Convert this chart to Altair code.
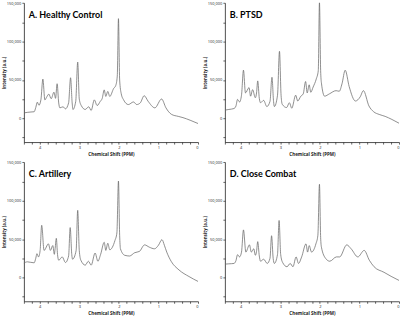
import altair as alt
import pandas as pd

titles = ["A. Healthy Control", "B. PTSD", "C. Artillery", "D. Close Combat"]

ppm_a = [4.38, 4.30, 4.22, 4.14, 4.10, 4.06, 4.02, 3.97, 3.92, 3.87,
         3.82, 3.77, 3.71, 3.64, 3.60, 3.56, 3.52, 3.49, 3.41, 3.35,
         3.27, 3.22, 3.18, 3.16, 3.09, 3.04, 3.00, 2.95, 2.85, 2.76,
         2.70, 2.62, 2.55, 2.47, 2.42, 2.37, 2.33, 2.28, 2.23, 2.13,
         2.08, 2.04, 2.01, 1.98, 1.94, 1.88, 1.76, 1.63, 1.55, 1.46,
         1.36, 1.26, 1.09, 0.92, 0.81, 0.67, 0.50, 0.38, 0.20, 0.0]
int_a = [7200, 7800, 8200, 8500, 14000, 21000, 17000, 24000, 51000, 24000,
         28000, 31500, 25500, 34000, 26000, 45000, 20000, 13600, 15000, 12300,
         20000, 52800, 20000, 11500, 22000, 73200, 25000, 16600, 11500, 15000,
         10200, 24000, 16600, 22000, 26000, 37000, 28500, 35000, 28500, 39000,
         42500, 55000, 129800, 50000, 32000, 24000, 17900, 21300, 17900, 20000,
         29400, 22100, 13600, 25100, 13600, 5100, 2500, 850, -2500, -6800]

ppm_b = [4.40, 4.30, 4.17, 4.12, 4.08, 4.03, 3.98, 3.93, 3.88, 3.79,
         3.75, 3.70, 3.63, 3.60, 3.57, 3.53, 3.50, 3.42, 3.34, 3.26,
         3.21, 3.17, 3.15, 3.07, 3.02, 2.98, 2.95, 2.84, 2.77, 2.71,
         2.61, 2.56, 2.48, 2.42, 2.36, 2.32, 2.27, 2.23, 2.17, 2.09,
         2.04, 2.01, 1.98, 1.96, 1.88, 1.76, 1.59, 1.51, 1.44, 1.36,
         1.26, 1.10, 0.98, 0.90, 0.76, 0.64, 0.50, 0.35, 0.18, 0.0]
int_b = [10600, 11500, 12700, 16000, 24600, 21200, 30000, 62700, 33000, 40000,
         28800, 37300, 26700, 33000, 48700, 26000, 20300, 23300, 15300, 22000,
         53400, 22000, 15300, 30000, 87300, 30000, 18200, 14000, 20300, 13100,
         30100, 22500, 28800, 31800, 47900, 33000, 43600, 33900, 40700, 51300,
         62000, 151000, 62000, 45800, 28800, 31800, 36000, 35200, 45000, 62700,
         41500, 22500, 28000, 36000, 16100, 8500, 5000, 2500, -1500, -6400]

ppm_c = [4.42, 4.31, 4.14, 4.10, 4.07, 4.03, 3.99, 3.95, 3.89, 3.78,
         3.73, 3.67, 3.63, 3.61, 3.58, 3.55, 3.52, 3.43, 3.35, 3.27,
         3.23, 3.19, 3.17, 3.08, 3.04, 3.00, 2.96, 2.85, 2.77, 2.70,
         2.60, 2.53, 2.46, 2.37, 2.33, 2.28, 2.23, 2.10, 2.05, 2.01,
         1.98, 1.96, 1.85, 1.73, 1.60, 1.48, 1.35, 1.23, 1.10, 1.00,
         0.91, 0.85, 0.79, 0.68, 0.48, 0.23, 0.0]
int_c = [18300, 20400, 19100, 25000, 31000, 26800, 35000, 68000, 35300, 43800,
         35300, 41600, 30200, 38000, 51000, 30000, 22500, 26800, 19500, 28000,
         65000, 30000, 23800, 35000, 87500, 35000, 22500, 16100, 21200, 16100,
         31900, 21200, 30200, 45900, 35300, 44600, 36100, 48000, 58000, 125700,
         55000, 37400, 28900, 28000, 32300, 34000, 42500, 39500, 37400, 42000,
         49300, 42000, 33100, 21200, 9800, 1300, -5100]

ppm_d = [4.40, 4.30, 4.17, 4.12, 4.08, 4.03, 3.98, 3.93, 3.87, 3.78,
         3.73, 3.67, 3.63, 3.60, 3.57, 3.53, 3.50, 3.42, 3.33, 3.26,
         3.22, 3.18, 3.15, 3.07, 3.03, 2.99, 2.94, 2.83, 2.75, 2.68,
         2.60, 2.54, 2.46, 2.35, 2.31, 2.27, 2.21, 2.10, 2.05, 2.01,
         1.98, 1.96, 1.85, 1.75, 1.58, 1.50, 1.32, 1.21, 1.04, 0.88,
         0.75, 0.63, 0.38, 0.20, 0.0]
int_d = [17400, 17800, 18300, 22000, 29700, 26800, 33000, 62000, 33100, 42500,
         33100, 37400, 28900, 34000, 46700, 28000, 21200, 23800, 18300, 25000,
         54400, 25000, 18300, 30000, 74300, 30000, 19500, 14000, 18300, 14000,
         26800, 18300, 26800, 43800, 33100, 41600, 33100, 43800, 55000, 121500,
         52000, 39500, 24600, 21200, 26800, 26800, 42500, 37400, 26800, 35300,
         22500, 14000, 6800, 1500, -3800]

x_ticks = [0.0, 0.2, 0.4, 0.6, 0.8, 1.0, 1.2, 1.4, 1.6, 1.8, 2.0, 2.2,
           2.4, 2.6, 2.8, 3.0, 3.2, 3.4, 3.6, 3.8, 4.0, 4.2, 4.4]
y_ticks = [-25000, 0, 25000, 50000, 75000, 100000, 125000, 150000]

W, H = 175, 140


def panel(ppm, inten, title):
    df = pd.DataFrame({"ppm": ppm, "intensity": inten})
    line = alt.Chart(df).mark_line(
        color="#6a6a6a", strokeWidth=0.75, interpolate="monotone", clip=True
    ).encode(
        x=alt.X("ppm:Q",
                scale=alt.Scale(domain=[0, 4.4], reverse=True, nice=False, zero=False),
                axis=alt.Axis(values=x_ticks, title="Chemical Shift (PPM)",
                              labelExpr="abs(datum.value - round(datum.value)) < 0.001 ? format(datum.value, 'd') : ''")),
        y=alt.Y("intensity:Q",
                scale=alt.Scale(domain=[-31000, 150500], nice=False, zero=False),
                axis=alt.Axis(values=y_ticks, title="Intensity (a.u.)", titlePadding=0,
                              labelExpr="datum.value % 50000 == 0 ? format(datum.value, ',') : ''")),
    )
    label = alt.Chart(pd.DataFrame({"t": [title]})).mark_text(
        align="left", baseline="middle", fontSize=9, fontWeight="bold",
        font="Lato", color="black"
    ).encode(x=alt.value(5), y=alt.value(12), text="t:N")
    return alt.layer(line, label).properties(width=W, height=H)


pa = panel(ppm_a, int_a, titles[0])
pb = panel(ppm_b, int_b, titles[1])
pc = panel(ppm_c, int_c, titles[2])
pd_ = panel(ppm_d, int_d, titles[3])

chart = alt.vconcat(
    alt.hconcat(pa, pb, spacing=3),
    alt.hconcat(pc, pd_, spacing=3),
    spacing=4,
).properties(
    padding={"left": 1, "top": 0, "right": 0, "bottom": 0},
    background="white",
).configure_view(stroke=None).configure_axis(
    domainColor="black", domainWidth=0.7, tickColor="black", tickSize=2,
    tickWidth=0.6, labelFontSize=4, labelFont="Open Sans", labelColor="#222",
    labelPadding=1, titleFontSize=4.5, titleFont="Open Sans", titleFontWeight="bold",
    titleColor="#222", titlePadding=2, grid=False,
)

chart.save("out.html", embed_options={"renderer": "svg", "actions": False})
